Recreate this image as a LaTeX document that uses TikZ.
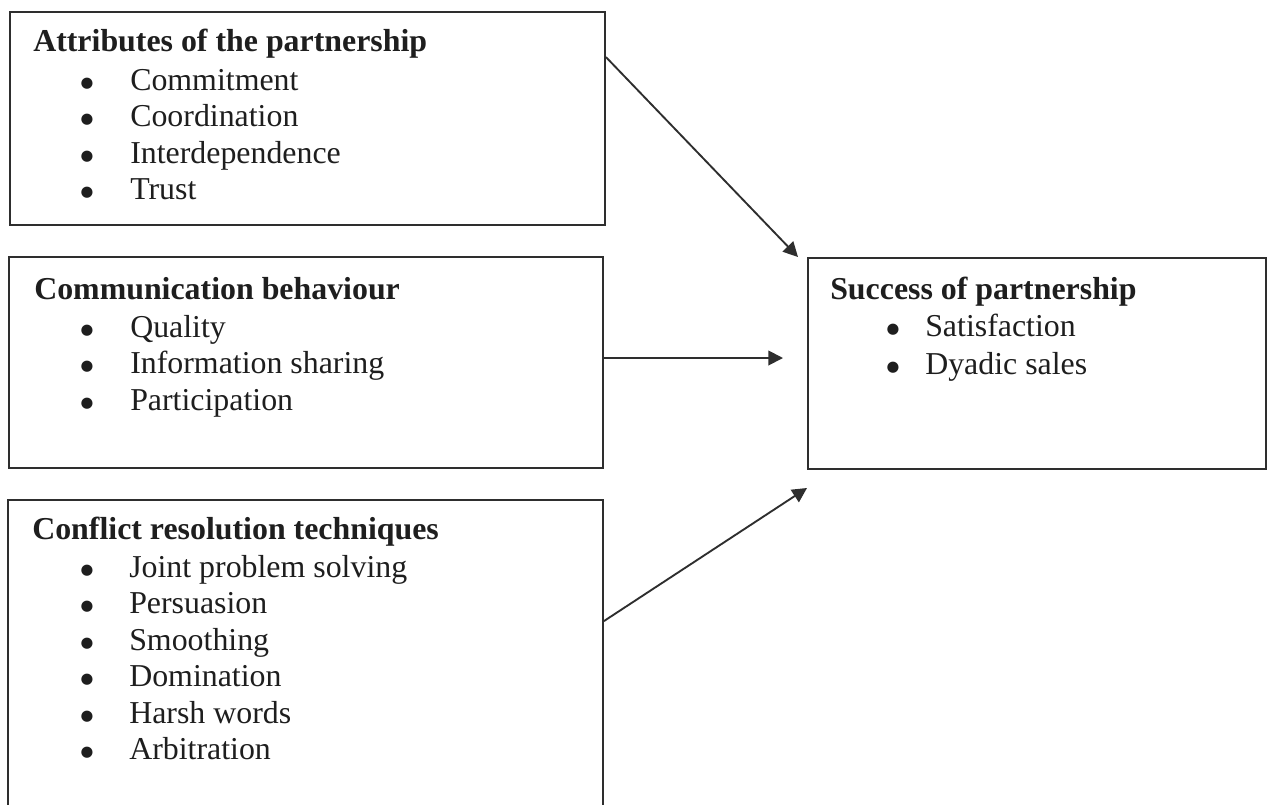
\documentclass[tikz,border=0pt]{standalone}
\usepackage{fontspec}
\setmainfont{Liberation Serif}
\newfontfamily\bulfont{DejaVu Sans}
\usetikzlibrary{arrows.meta,fit}
\definecolor{linegray}{HTML}{2E2E2E}
\definecolor{textgray}{HTML}{1E1E1E}
\begin{document}
\begin{tikzpicture}[x=0.75pt,y=-0.75pt,
  box/.style={draw=linegray, line width=1.4pt, inner sep=0pt},
  ttl/.style={anchor=base west, inner sep=0pt, font=\bfseries\fontsize{23.9}{27}\selectfont, text=textgray},
  itm/.style={anchor=base west, inner sep=0pt, font=\fontsize{23.9}{27}\selectfont, text=textgray},
  bul/.style={anchor=base, inner sep=0pt, yshift=2.2pt, font=\bulfont\fontsize{11}{12}\selectfont, text=textgray},
  arr/.style={draw=linegray, line width=1.4pt, -{Triangle[length=11pt,width=11pt]}}]
\useasboundingbox (0,0) rectangle (1270,804);
\clip (0,0) rectangle (1270,804);
\fill[white] (0,0) rectangle (1270,804);

% boxes
\node[box, fit={(10,12) (605,225)}] (A) {};
\node[box, fit={(9,257) (603,468)}] (B) {};
\node[box, fit={(8,500) (603,840)}] (C) {};
\node[box, fit={(808,258) (1266,469)}] (D) {};

% box A
\node[ttl] (At) at (33,51) {Attributes of the partnership};
\node[bul] (Ab1) at (87,90) {●};    \node[itm] (A1) at (130,90) {Commitment};
\node[bul] (Ab2) at (87,126.5) {●}; \node[itm] (A2) at (130,126.5) {Coordination};
\node[bul] (Ab3) at (87,163) {●};   \node[itm] (A3) at (130,163) {Interdependence};
\node[bul] (Ab4) at (87,199.5) {●}; \node[itm] (A4) at (130,199.5) {Trust};

% box B
\node[ttl] (Bt) at (34,299) {Communication behaviour};
\node[bul] (Bb1) at (87,337) {●};   \node[itm] (B1) at (130,337) {Quality};
\node[bul] (Bb2) at (87,373.5) {●}; \node[itm] (B2) at (130,373.5) {Information sharing};
\node[bul] (Bb3) at (87,410) {●};   \node[itm] (B3) at (130,410) {Participation};

% box C
\node[ttl] (Ct) at (32,539) {Conflict resolution techniques};
\node[bul] (Cb1) at (87,577) {●};   \node[itm] (C1) at (129,577) {Joint problem solving};
\node[bul] (Cb2) at (87,613.5) {●}; \node[itm] (C2) at (129,613.5) {Persuasion};
\node[bul] (Cb3) at (87,650) {●};   \node[itm] (C3) at (129,650) {Smoothing};
\node[bul] (Cb4) at (87,686.5) {●}; \node[itm] (C4) at (129,686.5) {Domination};
\node[bul] (Cb5) at (87,723) {●};   \node[itm] (C5) at (129,723) {Harsh words};
\node[bul] (Cb6) at (87,759.5) {●}; \node[itm] (C6) at (129,759.5) {Arbitration};

% box D
\node[ttl] (Dt) at (830,299) {Success of partnership};
\node[bul] (Db1) at (893,336) {●};  \node[itm] (D1) at (925,336) {Satisfaction};
\node[bul] (Db2) at (893,374) {●};  \node[itm] (D2) at (925,374) {Dyadic sales};

% arrow tips
\coordinate (tA) at (798,257);
\coordinate (tB) at (783,358);
\coordinate (tC) at (807,488);

\draw[arr] ([yshift=-34.5pt]A.north east) -- (tA);
\draw[arr] ([yshift=3.4pt]B.east) -- (tB);
\draw[arr] ([yshift=-91.5pt]C.north east) -- (tC);
\end{tikzpicture}
\end{document}
